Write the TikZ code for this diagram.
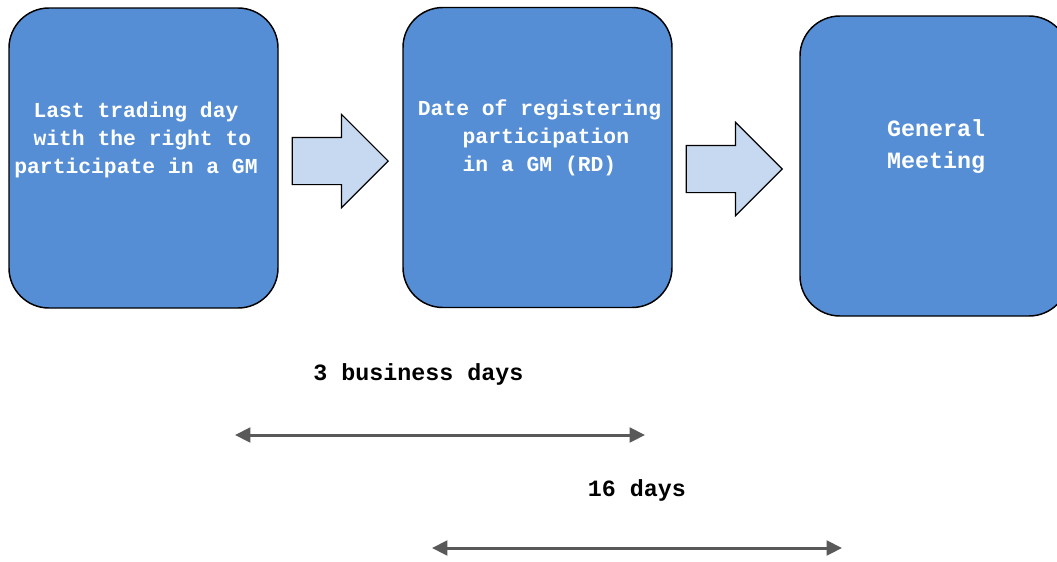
\documentclass[tikz,border=0pt]{standalone}
\usepackage{fontspec}
\setmainfont{Liberation Mono}
\usetikzlibrary{shapes.arrows,arrows.meta}
\definecolor{boxblue}{HTML}{558ED5}
\definecolor{arrowblue}{HTML}{C6D9F1}
\definecolor{dimgray}{HTML}{595959}
\tikzset{
  box/.style={draw=black, line width=1.1pt, fill=boxblue, rounded corners=30pt,
    minimum width=201.75pt, minimum height=225pt, inner sep=0pt},
  boxtext/.style={text=white, font=\bfseries\fontsize{16}{21}\selectfont, align=center},
  bigtext/.style={text=white, font=\bfseries\fontsize{17.5}{24}\selectfont, align=center},
  blockarrow/.style={single arrow, draw=black, line width=0.9pt, fill=arrowblue,
    inner xsep=0pt, inner ysep=17.25pt, minimum width=69pt, minimum height=72pt,
    single arrow head extend=17.25pt},
  dimline/.style={draw=dimgray, line width=2.25pt, {Triangle[length=11.5pt,width=11pt]}-{Triangle[length=11.5pt,width=11pt]}},
  label/.style={font=\bfseries\fontsize{17.5}{21}\selectfont, text=black}
}
\begin{document}
\begin{tikzpicture}[x=0.75pt, y=-0.75pt]
\useasboundingbox (0,0) rectangle (1057,561);
\node[box] (b1) at (143.5,158) {};
\node[box] (b2) at (537.5,157.5) {};
\node[box] (b3) at (934.5,166) {};
\node[boxtext] (t1) at (136,140) {Last trading day\\\ with the right to\\participate in a GM};
\node[boxtext] (t2) at (539.5,138) {Date of registering\\\ participation\\in a GM (RD)};
\node[bigtext] (t3) at (936,147) {General\\Meeting};
\node[blockarrow, anchor=tip] (a1) at (389,161) {};
\node[blockarrow, anchor=tip] (a2) at (783,169) {};
\coordinate (d1l) at (235,435);
\coordinate (d1r) at (645,435);
\coordinate (d2l) at (432,548);
\coordinate (d2r) at (842,548);
\draw[dimline] (d1l) -- (d1r);
\draw[dimline] (d2l) -- (d2r);
\node[label] (l1) at (418.5,374) {3 business days};
\node[label] (l2) at (637,490) {16 days};
\end{tikzpicture}
\end{document}
